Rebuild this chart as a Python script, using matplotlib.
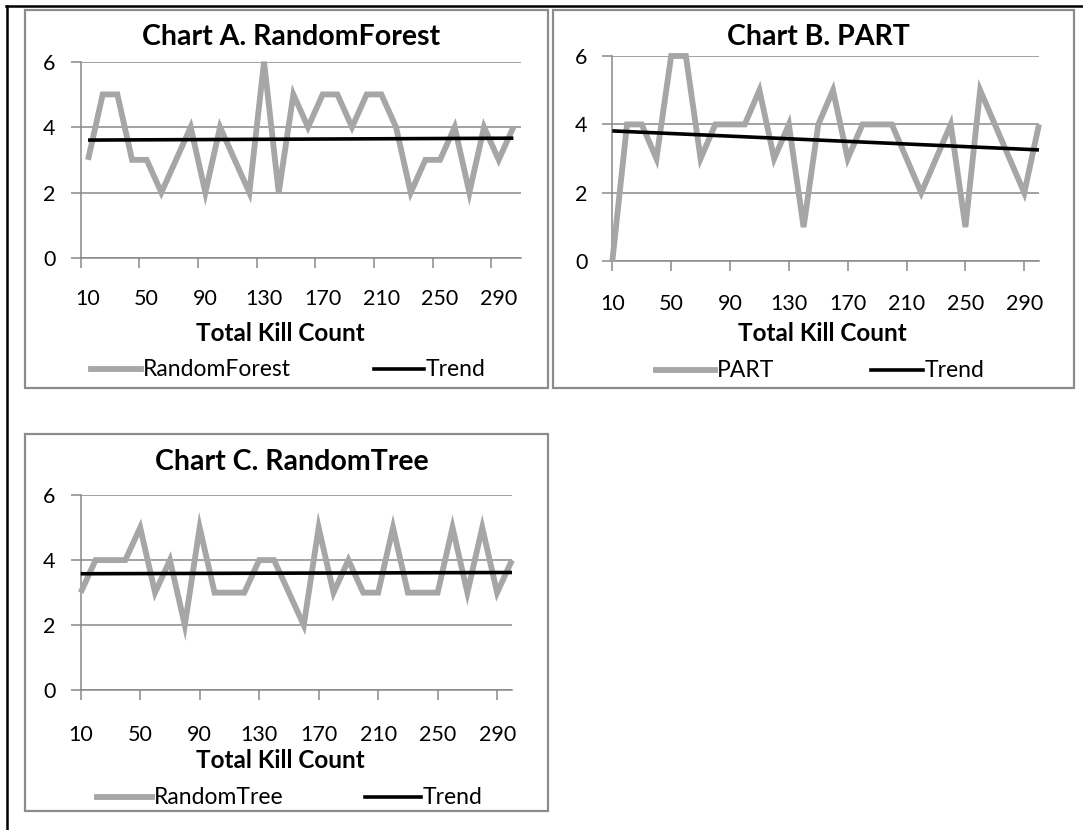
import numpy as np
import matplotlib
matplotlib.use("Agg")
import matplotlib.pyplot as plt
from matplotlib.lines import Line2D
from matplotlib.patches import Rectangle

# Kill-count buckets (x) and per-bucket values for each classifier
kill_counts = list(range(10, 310, 10))
tick_labels = ["10", "50", "90", "130", "170", "210", "250", "290"]

random_forest = [3, 5, 5, 3, 3, 2, 3, 4, 2, 4, 3, 2, 6, 2, 5,
                 4, 5, 5, 4, 5, 5, 4, 2, 3, 3, 4, 2, 4, 3, 4]
part = [0, 4, 4, 3, 6, 6, 3, 4, 4, 4, 5, 3, 4, 1, 4,
        5, 3, 4, 4, 4, 3, 2, 3, 4, 1, 5, 4, 3, 2, 4]
random_tree = [3, 4, 4, 4, 5, 3, 4, 2, 5, 3, 3, 3, 4, 4, 3,
               2, 5, 3, 4, 3, 3, 5, 3, 3, 3, 5, 3, 5, 3, 4]

W, H = 1083, 830
FONT = "Lato"
SERIES_GRAY = "#A6A6A6"
AXIS_GRAY = "#898989"
FRAME_GRAY = "#8C8C8C"
TICK_SIZE = 15.5
LEGEND_SIZE = 16.5
AXTITLE_SIZE = 17.5
TITLE_SIZE = 20.5
SERIES_LW = 4.2
TREND_LW = 2.6

fig = plt.figure(figsize=(W / 100, H / 100), dpi=100)
fig.patch.set_facecolor("white")


def px_axes(left, top, right, bottom):
    return fig.add_axes([left / W, 1 - bottom / H, (right - left) / W, (bottom - top) / H])


def frame(left, top, right, bottom):
    fig.patches.append(Rectangle((left / W, 1 - bottom / H), (right - left) / W,
                                 (bottom - top) / H, transform=fig.transFigure,
                                 fill=False, edgecolor=FRAME_GRAY, linewidth=1.6,
                                 zorder=0))


def chart(box, plot, title, title_base, name, values, between, label_y, xlabel_y,
          legend_y, legend_x, xlabel_cx):
    frame(*box)
    ax = px_axes(*plot)
    n = len(values)
    x = np.arange(n)
    y = np.array(values, dtype=float)
    slope, icpt = np.polyfit(x, y, 1)

    ax.plot(x, y, color=SERIES_GRAY, lw=SERIES_LW, solid_joinstyle="miter",
            solid_capstyle="butt", zorder=3, clip_on=False)
    ax.plot(x, slope * x + icpt, color="black", lw=TREND_LW, zorder=4,
            solid_capstyle="butt", clip_on=False)

    ax.set_ylim(0, 6)
    ax.set_yticks([0, 2, 4, 6])
    ax.set_yticklabels(["0", "2", "4", "6"], fontfamily=FONT, fontsize=TICK_SIZE)
    ax.yaxis.grid(True, color=AXIS_GRAY, lw=1.1)
    ax.set_axisbelow(True)

    if between:
        ax.set_xlim(-0.5, n - 0.5)
        ax.set_xticks(np.arange(-0.5, n - 1, 4), minor=True)
        ax.set_xticks(np.arange(0, n, 4))
        ax.tick_params(axis="x", which="major", length=0)
        ax.tick_params(axis="x", which="minor", length=7, width=1.1, color=AXIS_GRAY)
    else:
        ax.set_xlim(0, n - 1)
        ax.set_xticks(np.arange(0, n, 4))
        ax.tick_params(axis="x", which="major", length=7, width=1.1, color=AXIS_GRAY)
    ax.set_xticklabels([])

    ax.tick_params(axis="y", length=7, width=1.1, color=AXIS_GRAY, pad=11)
    for s in ["top", "right"]:
        ax.spines[s].set_visible(False)
    for s in ["left", "bottom"]:
        ax.spines[s].set_color(AXIS_GRAY)
        ax.spines[s].set_linewidth(1.1)

    # category labels under the axis
    for pos, lab in zip(ax.get_xticks(), tick_labels):
        xf = ax.transData.transform((pos, 0))[0] / W
        fig.text(xf, 1 - label_y / H, lab, ha="center", va="center",
                 fontfamily=FONT, fontsize=TICK_SIZE)

    cx = (box[0] + box[2]) / 2 + 5
    fig.text(cx / W, 1 - title_base / H, title, ha="center", va="baseline",
             fontfamily=FONT, fontsize=TITLE_SIZE, fontweight="bold")
    fig.text(xlabel_cx / W, 1 - xlabel_y / H, "Total Kill Count", ha="center",
             va="center", fontfamily=FONT, fontsize=AXTITLE_SIZE, fontweight="bold")

    # legend row
    g0, g1, b0, b1 = legend_x
    ly = 1 - legend_y / H
    fig.add_artist(Line2D([g0 / W, g1 / W], [ly, ly], color=SERIES_GRAY, lw=SERIES_LW,
                          transform=fig.transFigure))
    fig.text((g1 + 2) / W, ly, name, ha="left", va="center", fontfamily=FONT,
             fontsize=LEGEND_SIZE)
    fig.add_artist(Line2D([b0 / W, b1 / W], [ly, ly], color="black", lw=TREND_LW,
                          transform=fig.transFigure))
    fig.text((b1 + 2) / W, ly, "Trend", ha="left", va="center", fontfamily=FONT,
             fontsize=LEGEND_SIZE)


chart((25, 10, 548, 388), (80.7, 61.7, 520.7, 258), "Chart A. RandomForest", 45,
      "RandomForest", random_forest, True, 299, 333, 369, (91, 141, 374, 424), 280)
chart((553, 10, 1074, 388), (612.3, 56, 1039, 261.3), "Chart B. PART", 45,
      "PART", part, False, 304, 333, 370, (656, 715, 871, 923), 822)
chart((25, 434, 548, 811), (80.7, 495, 512, 690.3), "Chart C. RandomTree", 470,
      "RandomTree", random_tree, False, 735, 760, 797, (97, 152, 365, 421), 280)

# outer table-cell border (top and left edges)
fig.add_artist(Line2D([6 / W, 1], [1 - 6.5 / H, 1 - 6.5 / H], color="black", lw=1.8,
                      transform=fig.transFigure))
fig.add_artist(Line2D([6.5 / W, 6.5 / W], [0, 1 - 6 / H], color="black", lw=1.8,
                      transform=fig.transFigure))

fig.savefig("out.png", dpi=100, facecolor="white")
